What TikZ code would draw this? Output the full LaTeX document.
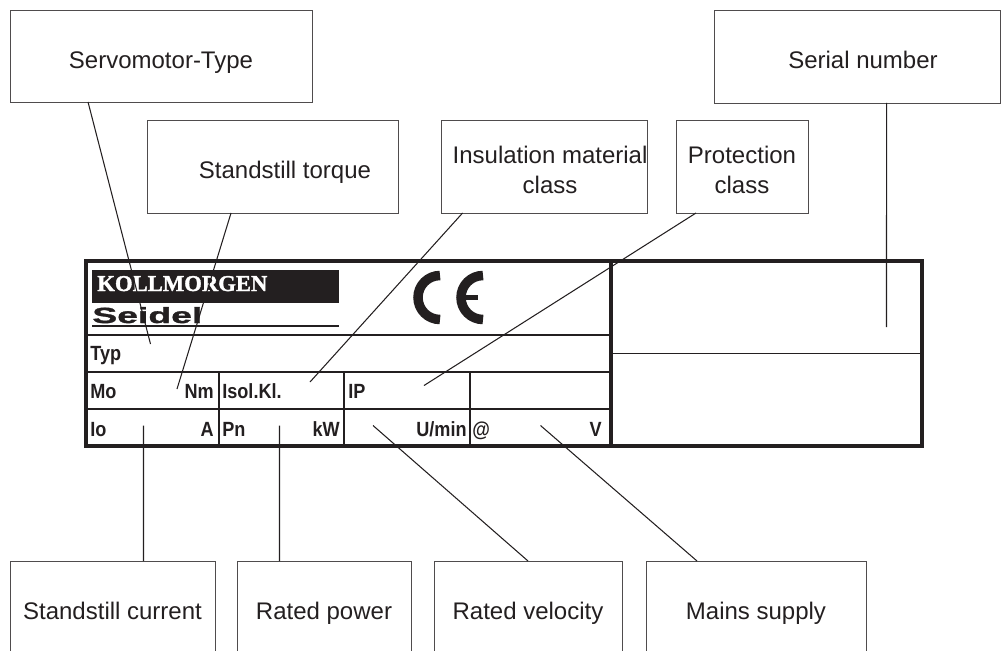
\documentclass[tikz,border=0pt]{standalone}
\usepackage{fontspec}
\setmainfont{Liberation Sans}
\newfontfamily\kollfont[BoldFeatures={FakeBold=1.5}]{Liberation Serif}
\newfontfamily\seidelfont[FakeStretch=1.7,BoldFeatures={FakeBold=1.5}]{Liberation Sans}
\newfontfamily\platefont[FakeStretch=0.88]{Liberation Sans}
\definecolor{platecol}{HTML}{231F20}
\newcommand{\topstrut}{\rule{0pt}{17pt}}
\newcommand{\botstrut}{\rule[-3pt]{0pt}{0pt}}
\tikzset{
labelbox/.style={draw=platecol!80, line width=0.5pt, inner sep=0pt, outer sep=0pt, align=center, text=platecol, font=\fontsize{13.66}{17}\selectfont},
leader/.style={draw=platecol, line width=0.6pt},
frameline/.style={draw=platecol, line width=1.8pt},
gridline/.style={draw=platecol, line width=0.85pt},
plateleft/.style={anchor=base west, inner sep=0pt, text=platecol, font=\fontsize{11.7}{14}\platefont\bfseries},
plateright/.style={anchor=base east, inner sep=0pt, text=platecol, font=\fontsize{11.7}{14}\platefont\bfseries}
}
\begin{document}
\begin{tikzpicture}[x=0.02cm, y=-0.02cm]
\useasboundingbox (0,0) rectangle (1007,650);

% upper label boxes
\node[labelbox, minimum width=6.04cm, minimum height=1.84cm] (servo) at (161,56) {\topstrut Servomotor-Type\botstrut};
\node[labelbox, minimum width=5.72cm, minimum height=1.86cm] (serial) at (857,56.5) {\topstrut\hspace*{6.8pt}Serial number\botstrut};
\node[labelbox, minimum width=5.02cm, minimum height=1.86cm] (torque) at (272.5,166.5) {\topstrut\hspace*{14.2pt}Standstill torque\botstrut};
\node[labelbox, minimum width=4.1cm, minimum height=1.86cm] (insul) at (544.5,166.5) {\topstrut\hspace*{6.3pt}Insulation material\\\hspace*{6.3pt}class\botstrut};
\node[labelbox, minimum width=2.64cm, minimum height=1.86cm] (protect) at (742,166.5) {\topstrut Protection\\class\botstrut};

% lower label boxes, the page cuts them off
\node[labelbox, minimum width=4.1cm, minimum height=2.12cm] (current) at (112.5,614) {\strut Standstill current};
\node[labelbox, minimum width=3.48cm, minimum height=2.12cm] (power) at (324,614) {\strut Rated power};
\node[labelbox, minimum width=3.76cm, minimum height=2.12cm] (veloc) at (528,614) {\strut Rated velocity};
\node[labelbox, minimum width=4.4cm, minimum height=2.12cm] (mains) at (756,614) {\strut Mains supply};

% name plate
\fill[platecol] (92,270) rectangle (339,303);
\draw[platecol, line width=1.1pt] (92,326) -- (339,326);
\draw[gridline] (86,335) -- (611,335);
\draw[gridline] (86,372) -- (611,372);
\draw[gridline] (86,409) -- (611,409);
\foreach \x in {219,344,470}
  \draw[gridline] (\x,372) -- (\x,446);
\draw[gridline] (611,353.5) -- (922,353.5);
\draw[frameline] (86,261) rectangle (922,446);
\draw[frameline] (611,261) -- (611,446);

% logo
\node[anchor=base west, inner sep=0pt, text=white, font=\fontsize{12.9}{15}\kollfont\bfseries] (koll) at (97,291) {KOLLMORGEN};
\node[anchor=base west, inner sep=0pt, text=platecol, font=\fontsize{12.5}{15}\seidelfont\bfseries] (seidel) at (92,323) {Seidel};

% CE mark
\draw[platecol, line width=0.19cm] (440,275.5) arc (270:90:22);
\draw[platecol, line width=0.19cm] (483,275.5) arc (270:90:22);
\draw[platecol, line width=0.09cm] (462,297.5) -- (478,297.5);

% plate texts
\node[plateleft] (typ) at (90,360) {Typ};
\node[plateleft] (mo) at (90,398) {Mo};
\node[plateright] (nm) at (214,398) {Nm};
\node[plateleft] (isol) at (222,398) {Isol.Kl.};
\node[plateleft] (ip) at (348,398) {IP};
\node[plateleft] (io) at (90,436) {Io};
\node[plateright] (amp) at (214,436) {A};
\node[plateleft] (pn) at (222,436) {Pn};
\node[plateright] (kw) at (340,436) {kW};
\node[plateright] (umin) at (467,436) {U/min};
\node[plateleft] (atsign) at (472,436) {@};
\node[plateright] (volt) at (602,436) {V};

% leader ends on the plate
\coordinate (servoend) at (150.5,344);
\coordinate (torqueend) at (177,389);
\coordinate (insulend) at (310,382);
\coordinate (protectend) at (424,385.5);
\coordinate (serialend) at (886.5,327);
\coordinate (currentend) at (143.5,425.5);
\coordinate (powerend) at (279.5,425.5);
\coordinate (velocend) at (373,425.5);
\coordinate (mainsend) at (540.5,425.5);

\draw[leader] (servo.south west) ++(78,0) -- (servoend);
\draw[leader] (torque.south west) ++(84,0) -- (torqueend);
\draw[leader] (insul.south west) ++(21,0) -- (insulend);
\draw[leader] (protect.south west) ++(20,0) -- (protectend);
\draw[leader] (serial.south west) ++(172.5,0) -- (serialend);
\draw[leader] (current.north west) ++(133.5,0) -- (currentend);
\draw[leader] (power.north west) ++(42.5,0) -- (powerend);
\draw[leader] (veloc.north west) ++(94,0) -- (velocend);
\draw[leader] (mains.north west) ++(51,0) -- (mainsend);
\end{tikzpicture}
\end{document}
